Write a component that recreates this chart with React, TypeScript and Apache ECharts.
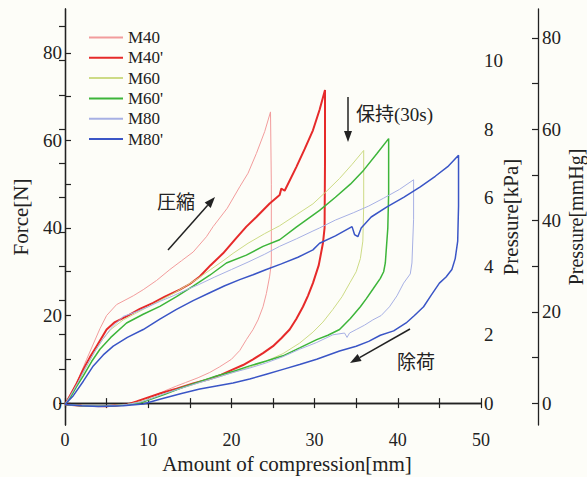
import React, { useEffect, useRef } from "react";
import * as echarts from "echarts";

// ---- data (x: compression mm, y: force N) ----
const seriesNames = ["M40", "M40'", "M60", "M60'", "M80", "M80'"];

const m40: number[][] = [
  [0, -0.3], [0.5, 1.5], [1.5, 5], [2.6, 10], [3.4, 13.5], [4.2, 17], [5, 20], [6.2, 22.5], [8.2, 24.5],
  [9.4, 25.9], [11, 28], [12.6, 30.5], [14, 32.5], [15.4, 34.5], [17, 38], [17.8, 40.3], [19.5, 44.5],
  [21, 49.4], [22, 52.5], [23, 57], [24, 62], [24.7, 66.5],
  [24.8, 50], [24.8, 32], [24.6, 29],
  [24.2, 25], [23.8, 22], [23.2, 19], [22.6, 16.8], [21.8, 14.5], [21, 12], [20, 10], [18.6, 8.3],
  [17.4, 7], [16, 5.8], [14.5, 4.7], [13.4, 3.9], [12, 2.8], [10.5, 1.5], [9.4, 0.8], [8.5, 0],
  [7, -0.5], [5, -0.8], [3, -0.6], [1, -0.5], [0, -0.3],
];

const m40p: number[][] = [
  [0, -0.3], [0.6, 1.7], [1.4, 4.5], [2.2, 7.7], [3, 10.5], [3.8, 13], [5, 16.8], [6, 18.5], [7.4, 19.8],
  [9, 21.5], [10.6, 22.9], [12, 24.3], [13.8, 25.9], [15, 27.2], [16.2, 28.9], [17.5, 31.5], [19, 34.2],
  [20.5, 37.5], [21.8, 40.3], [23, 42.5], [24.6, 45.6], [25.8, 47.5], [26, 49], [26.4, 48.5], [27.8, 53.9],
  [28.8, 58], [29.8, 62.3], [30.6, 67], [31.25, 71.5],
  [31.25, 55], [31.2, 40], [31, 36.5],
  [30.5, 31.5], [29.8, 27.4], [29.2, 24.5], [28.6, 22], [27.8, 19.2], [27, 16.8], [26, 14.8], [25, 13],
  [23.8, 11.4], [22.6, 10], [21.4, 8.7], [20.2, 7.7], [18.8, 6.5], [17.4, 5.5], [15.4, 4.5], [13.4, 3.3],
  [11.4, 2.2], [10, 1.3], [8.6, 0.4], [7.5, -0.3], [5, -0.7], [2, -0.6], [0, -0.3],
];

const m60: number[][] = [
  [0, -0.3], [0.6, 1.5], [1.5, 4.5], [2.5, 8], [3.5, 11.5], [4.5, 14.5], [5.5, 16.8], [7, 19], [8.5, 20.5],
  [10, 22], [11.5, 23.5], [13, 25], [14.5, 26.7], [16, 28.5], [17.5, 30.5], [19, 32.5], [20.2, 34.2],
  [22, 36.5], [24, 38.7], [25.8, 40.5], [27.8, 43], [29.8, 45.5], [31.5, 48.5], [33, 51.3], [34.5, 54.5],
  [35.9, 57.7],
  [35.9, 45], [35.8, 37],
  [35.5, 33], [35, 30], [34.25, 27.5], [33.3, 24.3], [32.2, 21.4], [31, 18.5], [29.8, 16.2], [28.2, 13.7],
  [26.2, 11.3], [24.2, 9.6], [22.2, 8.2], [20.2, 7], [18.2, 5.8], [16.2, 4.7], [14.2, 3.5], [12.2, 2.3],
  [10.5, 1.2], [9, 0.3], [7.5, -0.3], [5, -0.7], [2, -0.6], [0, -0.3],
];

const m60p: number[][] = [
  [0, -0.3], [0.7, 1.5], [1.4, 3.8], [2.2, 6.2], [3.2, 9.5], [4.2, 12.3], [5.5, 15], [7.4, 18.3],
  [9.4, 20.3], [11.4, 22.1], [13.4, 24.3], [15.4, 26.7], [17.4, 29.2], [19.4, 32], [21.8, 33.8],
  [23.8, 35.8], [25.8, 37.3], [27.8, 40.2], [30.6, 44], [32.5, 47], [34.3, 50], [35.9, 53.2], [37.5, 57],
  [38.9, 60.4],
  [38.9, 48], [38.8, 40],
  [38.5, 32], [38.3, 30], [37.9, 28.5], [37, 26], [36.2, 23.8], [35.5, 22], [34.3, 19.3], [33, 16.8],
  [31.6, 15.5], [30.25, 14.5], [28.2, 12.6], [26.2, 10.8], [24.2, 9.6], [22.2, 8.5], [20.2, 7.2],
  [18.2, 6.2], [16, 4.8], [14, 3.5], [12, 2], [10.2, 0.8], [9, 0], [7.5, -0.4], [5, -0.7], [2, -0.6], [0, -0.3],
];

const m80: number[][] = [
  [0, -0.3], [0.6, 1.5], [1.5, 4.5], [2.5, 8.2], [3.5, 11.5], [4.5, 14.5], [5.5, 17], [7, 19.8], [8.5, 20.8],
  [10, 22], [11.5, 23.3], [13, 24.5], [14.5, 25.8], [16, 27], [18, 28.8], [20, 30.5], [22, 32.2], [24, 34],
  [25.8, 35.8], [27.8, 37.5], [29.8, 39.3], [30.6, 40], [32.5, 41.8], [34.7, 43.5], [36.5, 45], [38.3, 46.8],
  [40.2, 48.8], [41.9, 51],
  [41.9, 42], [41.7, 32],
  [41.5, 29.5], [40.7, 27.4], [39.9, 24.5], [39, 22], [38, 20], [37, 19], [36, 17.8], [35, 16.8], [34.2, 16],
  [33.9, 15], [33.6, 16], [32.2, 15.6], [30.2, 13.8], [28.2, 12.3], [26.2, 10.6], [24.2, 9.2], [22.2, 8],
  [20.2, 7], [18.2, 5.8], [16, 4.6], [14, 3.4], [12, 2.2], [10.3, 1], [9, 0.2], [7.5, -0.3], [5, -0.7],
  [2, -0.6], [0, -0.3],
];

const m80p: number[][] = [
  [0, -0.3], [1, 1.7], [2.2, 5], [3.4, 8.5], [4.6, 11], [5.8, 13], [7.5, 15], [9.4, 16.8], [11.4, 19.2],
  [13.4, 21.4], [15.4, 23.4], [17.4, 25.2], [19.2, 26.8], [21, 28.2], [22.6, 29.3], [24.2, 30.5], [26, 31.8],
  [28, 33.3], [29.8, 35], [30.6, 36.5], [32.5, 38.2], [34.5, 40.3], [34.8, 38.5], [35.2, 38], [35.6, 40],
  [36.8, 42.5], [38.7, 44.8], [40.7, 47], [42.7, 49.4], [44.5, 51.8], [46, 54], [47.3, 56.6],
  [47.3, 45], [47.2, 37],
  [46.9, 33], [46.5, 30.5], [45.8, 28.8], [45, 27.4], [44, 24.6], [43.1, 22], [42, 20], [41, 18.3],
  [39.5, 16.5], [37.9, 15.5], [36.5, 14.1], [35, 13], [33, 11.9], [30.25, 10], [28.2, 8.8], [26.2, 7.7],
  [24.2, 6.6], [22.2, 5.5], [20.2, 4.6], [18.2, 3.9], [16.2, 3.2], [14, 2.2], [11.4, 0.9], [9.4, -0.2],
  [7, -0.6], [4, -0.8], [2, -0.6], [0, -0.3],
];

const seriesData = [m40, m40p, m60, m60p, m80, m80p];

// ---- axis ticks / labels ----
const xTicks = [0, 5, 10, 15, 20, 25, 30, 35, 40, 45, 50];
const xLabels = [0, 10, 20, 30, 40, 50];
const forceTicks = [0, 10, 20, 30, 40, 50, 60, 70, 80];
const forceLabels = [0, 20, 40, 60, 80];
const kpaTicks = [0, 1, 2, 3, 4, 5, 6, 7, 8, 9, 10, 11];
const kpaLabels = [0, 2, 4, 6, 8, 10];
const mmhgTicks = [0, 10, 20, 30, 40, 50, 60, 70, 80];
const mmhgLabels = [0, 20, 40, 60, 80];

const FORCE_MIN = -5;
const FORCE_MAX = 90;
const N_PER_KPA = 7.82;
const MMHG_PER_KPA = 7.5;

const colors = ["#f29c9c", "#e62a2a", "#cddb86", "#3db53a", "#a7b0e4", "#3a55c6"];
const widths = [1, 2, 1, 1.5, 1, 1.5];

const SERIF = "Liberation Serif";
const CJK = "Liberation Serif, Noto Sans CJK JP";
const INK = "#222";

function arrow(x1: number, y1: number, x2: number, y2: number) {
  const dx = x2 - x1;
  const dy = y2 - y1;
  const len = Math.sqrt(dx * dx + dy * dy);
  const ux = dx / len;
  const uy = dy / len;
  const hl = 11;
  const hw = 4;
  const bx = x2 - ux * hl;
  const by = y2 - uy * hl;
  return {
    type: "group",
    children: [
      {
        type: "line",
        shape: { x1, y1, x2: bx, y2: by },
        style: { stroke: INK, lineWidth: 1.5 },
      },
      {
        type: "polygon",
        shape: {
          points: [
            [x2, y2],
            [bx - uy * hw, by + ux * hw],
            [bx + uy * hw, by - ux * hw],
          ],
        },
        style: { fill: INK },
      },
    ],
  };
}

export default function App() {
  const ref = useRef<HTMLDivElement>(null);
  useEffect(() => {
    if (!ref.current) return;
    const chart = echarts.init(ref.current, undefined, { renderer: "svg" });
    const axisLine = { show: true, lineStyle: { color: INK, width: 1.3 } };
    const tickStyle = { color: INK, width: 1.2 };
    const label = (vals: number[], margin: number, size = 19) => ({
      customValues: vals,
      fontFamily: SERIF,
      fontSize: size,
      color: INK,
      margin,
    });
    const nameStyle = { fontFamily: SERIF, fontSize: 21, color: INK };
    const option: any = {
      animation: false,
      backgroundColor: "#fdfdf8",
      textStyle: { fontFamily: SERIF },
      grid: {
        left: 65,
        right: 106,
        top: 9,
        bottom: 52,
        containLabel: false,
        outerBoundsMode: "none",
      },
      legend: {
        orient: "vertical",
        left: 84,
        top: 24,
        icon: "rect",
        itemWidth: 34,
        itemHeight: 2,
        itemGap: 3.3,
        textStyle: { fontFamily: SERIF, fontSize: 17, color: INK, lineHeight: 17 },
        data: seriesNames,
      },
      xAxis: [
        {
          type: "value",
          position: "bottom",
          min: 0,
          max: 50,
          name: "Amount of compression[mm]",
          nameLocation: "middle",
          nameGap: 28,
          nameMoveOverlap: false,
          nameTextStyle: { ...nameStyle, padding: [0, 0, 0, 28] },
          axisLine,
          axisTick: { inside: true, length: 5, lineStyle: tickStyle, customValues: xTicks },
          axisLabel: label(xLabels, 6, 18),
          splitLine: { show: false },
        },
        {
          type: "value",
          position: "top",
          min: 0,
          max: 50,
          axisLine,
          axisTick: { inside: true, length: 5, lineStyle: tickStyle, customValues: xTicks },
          axisLabel: { show: false },
          splitLine: { show: false },
        },
      ],
      yAxis: [
        {
          type: "value",
          position: "left",
          min: FORCE_MIN,
          max: FORCE_MAX,
          name: "Force[N]",
          nameLocation: "middle",
          nameRotate: 90,
          nameGap: 34,
          nameMoveOverlap: false,
          nameTextStyle: nameStyle,
          axisLine,
          axisTick: { inside: true, length: 6, lineStyle: tickStyle, customValues: forceTicks },
          axisLabel: label(forceLabels, 3),
          splitLine: { show: false },
        },
        {
          type: "value",
          position: "right",
          min: FORCE_MIN / N_PER_KPA,
          max: FORCE_MAX / N_PER_KPA,
          name: "Pressure[kPa]",
          nameLocation: "middle",
          nameRotate: 90,
          nameGap: 19,
          nameMoveOverlap: false,
          nameTextStyle: nameStyle,
          axisLine,
          axisTick: { inside: true, length: 6, lineStyle: tickStyle, customValues: kpaTicks },
          axisLabel: label(kpaLabels, 3),
          splitLine: { show: false },
        },
        {
          type: "value",
          position: "right",
          offset: 57,
          min: (FORCE_MIN / N_PER_KPA) * MMHG_PER_KPA,
          max: (FORCE_MAX / N_PER_KPA) * MMHG_PER_KPA,
          name: "Pressure[mmHg]",
          nameLocation: "middle",
          nameRotate: 90,
          nameGap: 28,
          nameMoveOverlap: false,
          nameTextStyle: { ...nameStyle, fontSize: 20 },
          axisLine,
          axisTick: { inside: true, length: 6, lineStyle: tickStyle, customValues: mmhgTicks },
          axisLabel: label(mmhgLabels, 4),
          splitLine: { show: false },
        },
      ],
      series: seriesNames.map((name, i) => ({
        name,
        type: "line",
        xAxisIndex: 0,
        yAxisIndex: 0,
        data: seriesData[i],
        symbol: "none",
        showSymbol: false,
        smooth: false,
        color: colors[i],
        itemStyle: { color: colors[i] },
        lineStyle: { color: colors[i], width: widths[i] },
        emphasis: { disabled: true },
      })),
      graphic: [
        arrow(168, 250, 215, 197),
        arrow(348, 97, 348, 142),
        arrow(410, 329, 350, 363),
        {
          type: "text",
          x: 176,
          y: 202,
          style: { text: "圧縮", fontFamily: CJK, fontSize: 19, fill: INK, align: "center", verticalAlign: "middle" },
        },
        {
          type: "text",
          x: 356,
          y: 114,
          style: { text: "保持(30s)", fontFamily: CJK, fontSize: 19, fill: INK, align: "left", verticalAlign: "middle" },
        },
        {
          type: "text",
          x: 416,
          y: 362,
          style: { text: "除荷", fontFamily: CJK, fontSize: 19, fill: INK, align: "center", verticalAlign: "middle" },
        },
      ],
    };
    chart.setOption(option);
    return () => chart.dispose();
  }, []);
  return (
    <div
      ref={ref}
      style={{ position: "fixed", left: 0, top: 0, width: 587, height: 477 }}
    />
  );
}
